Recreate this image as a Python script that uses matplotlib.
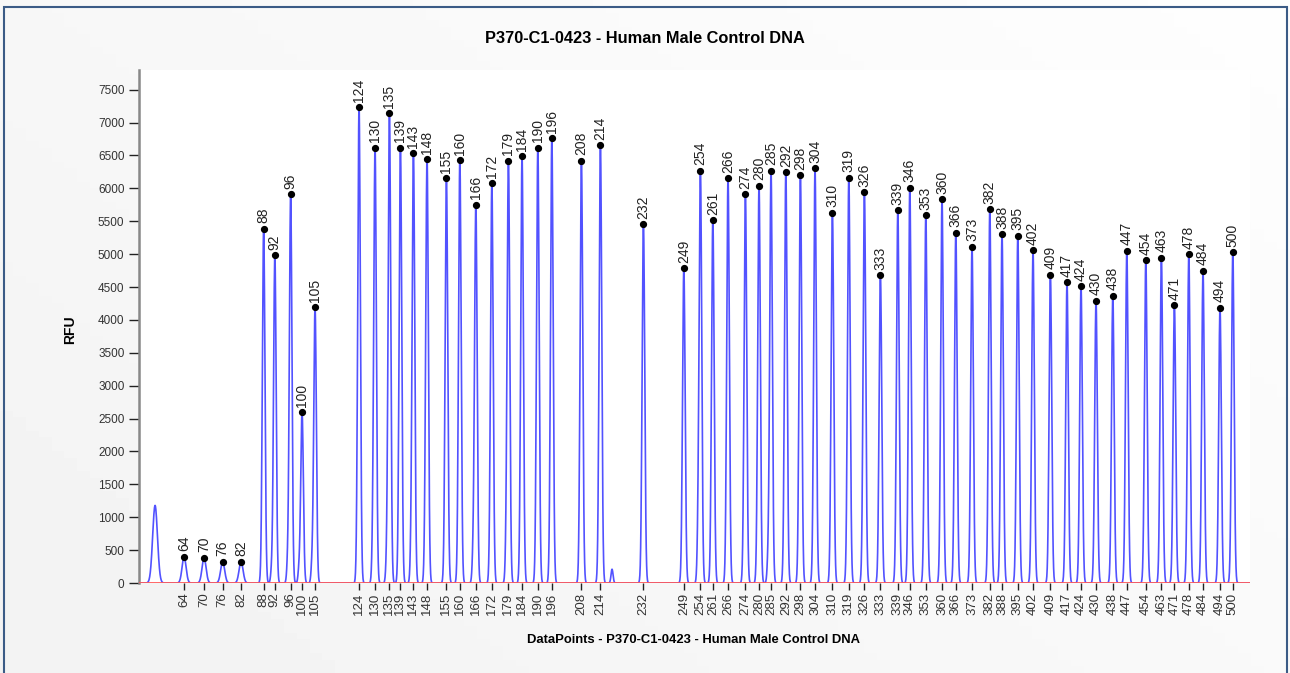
import numpy as np
import matplotlib.pyplot as plt
from matplotlib.patches import Rectangle

plt.rcParams['font.family'] = ['Liberation Sans', 'DejaVu Sans']

# labelled peaks: size label, scan position (data points), height (RFU)
sizes = [64, 70, 76, 82, 88, 92, 96, 100, 105, 124, 130, 135, 139, 143, 148,
         155, 160, 166, 172, 179, 184, 190, 196, 208, 214, 232, 249, 254, 261,
         266, 274, 280, 285, 292, 298, 304, 310, 319, 326, 333, 339, 346, 353,
         360, 366, 373, 382, 388, 395, 402, 409, 417, 424, 430, 438, 447, 454,
         463, 471, 478, 484, 494, 500]
positions = [225, 325, 418, 510, 623, 679, 758, 815, 880, 1100, 1180, 1252,
             1307, 1372, 1440, 1537, 1604, 1684, 1764, 1847, 1915, 1994, 2064,
             2212, 2307, 2522, 2724, 2807, 2869, 2945, 3032, 3100, 3160, 3234,
             3307, 3380, 3467, 3549, 3627, 3707, 3794, 3854, 3934, 4015, 4084,
             4165, 4254, 4315, 4394, 4470, 4557, 4640, 4710, 4785, 4869, 4939,
             5034, 5112, 5177, 5249, 5320, 5405, 5469]
heights = [400, 385, 325, 325, 5385, 4980, 5907, 2596, 4189, 7236, 6618, 7140,
           6618, 6531, 6440, 6151, 6430, 5750, 6075, 6420, 6486, 6618, 6765,
           6420, 6653, 5457, 4782, 6268, 5518, 6157, 5913, 6040, 6268, 6248,
           6197, 6303, 5629, 6161, 5943, 4681, 5664, 6009, 5593, 5837, 5324,
           5111, 5679, 5305, 5279, 5056, 4686, 4574, 4513, 4295, 4371, 5051,
           4909, 4949, 4225, 4995, 4746, 4184, 5031]

# unlabelled peaks and shoulders in the trace
minor_pos = [80, 663, 743, 800, 865, 1168, 1238, 1360, 1430, 1670, 1835,
             2365, 2795, 3145]
minor_h = [1180, 180, 260, 200, 270, 270, 240, 260, 200, 330, 230, 210, 500, 300]

x = np.arange(0, 5556)
trace = np.zeros(len(x), dtype=float)
for p, h in zip(positions, heights):
    w = 10 if h < 1000 else 6.5
    trace += h * np.exp(-0.5 * ((x - p) / w) ** 2)
for p, h in zip(minor_pos, minor_h):
    w = 12 if p < 200 else 5
    trace += h * np.exp(-0.5 * ((x - p) / w) ** 2)

fig = plt.figure(figsize=(12.9, 6.73), dpi=100)

# soft gray background
bg = fig.add_axes([0, 0, 1, 1], zorder=-5)
gy, gx = np.mgrid[0:1:100j, 0:1:100j]
grad = 0.95 + 0.045 * (0.6 * gx + 0.4 * (1 - gy))
bg.imshow(grad, cmap='gray', vmin=0, vmax=1, aspect='auto', extent=[0, 1, 0, 1])
bg.axis('off')
fig.patches.append(Rectangle((0.003, -0.01), 0.995, 1.0, transform=fig.transFigure,
                             fill=False, edgecolor='#3b5b86', linewidth=1.5))

ax = fig.add_axes([0.1078, 0.1337, 0.8612, 0.7623])
ax.set_facecolor('white')
ax.plot(x, trace, color='#3434ff', lw=1.2, alpha=0.85, zorder=2)
ax.axhline(0, color='#ff5a5a', lw=1.3, zorder=3)
ax.plot(positions, heights, 'o', color='black', ms=4.2, zorder=4)
for s, p, h in zip(sizes, positions, heights):
    ax.annotate(str(s), (p, h), xytext=(0, 4), textcoords='offset points',
                rotation=90, ha='center', va='bottom', fontsize=10, color='#222222')

ax.set_xlim(0, 5555)
ax.set_ylim(0, 7800)
ax.set_yticks(np.arange(0, 7501, 500))
ax.set_xticks(positions)
ax.set_xticklabels([str(s) for s in sizes], rotation=90)
ax.tick_params(axis='y', labelsize=8.5, length=7, width=1, color='#222222', labelcolor='#333333')
ax.tick_params(axis='x', labelsize=9.5, length=5, width=1, pad=2, color='#222222',
               labelcolor='#333333')
for side in ['top', 'right', 'bottom']:
    ax.spines[side].set_visible(False)
ax.spines['left'].set_color('#888888')
ax.spines['left'].set_linewidth(1.8)

fig.text(0.5, 0.943, 'P370-C1-0423 - Human Male Control DNA', ha='center', va='center',
         fontsize=11.8, fontweight='bold')
fig.text(0.5376, 0.049, 'DataPoints - P370-C1-0423 - Human Male Control DNA', ha='center',
         va='center', fontsize=9.4, fontweight='bold')
fig.text(0.054, 0.51, 'RFU', ha='center', va='center', rotation=90, fontsize=10,
         fontweight='bold')

fig.savefig('out.png', dpi=100)
